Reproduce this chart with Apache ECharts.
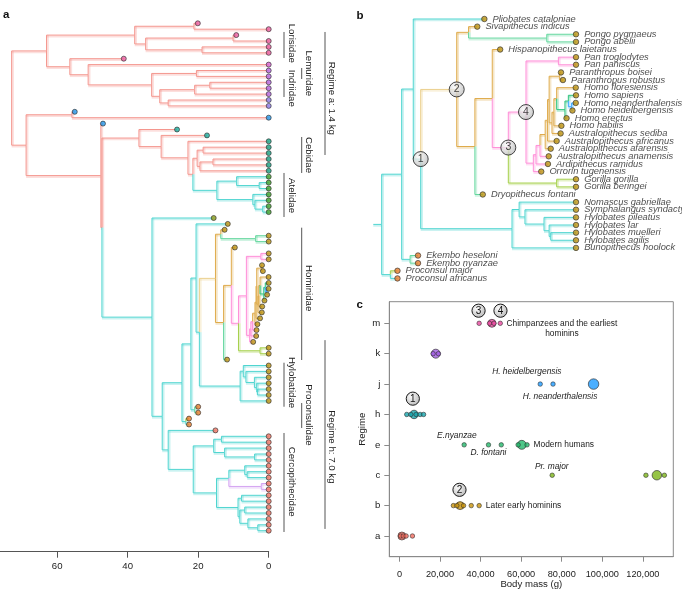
<!DOCTYPE html>
<html><head><meta charset="utf-8">
<script src="https://cdn.jsdelivr.net/npm/echarts@6/dist/echarts.min.js"></script>
<style>html,body{margin:0;padding:0;background:#fff}#c{width:682px;height:591px}</style>
</head><body><div id="c"></div>
<script>
// ================= DATA =================
const N = (age, col, ...kids) => ({age, col, kids});
const T = (age, col, dot, name) => ({age, col, dot, name: name || ''});
const mark = (lab, n) => { n.mk = lab; return n; };

// panel a / b axis ticks (Myr)
const timeTicks = [0, 20, 40, 60];

// clades (node ages in Myr, branch colour code, tip dot colour code)
const strepsirrhineClade = N(63.0,'S',
  N(38.0,'S',
    N(21.2,'S', T(20.1,'S','pk'), T(0,'S','pk')),
    N(34.9,'S',
      N(10.1,'S', T(9.2,'S','pk'), T(0,'S','pk')),
      N(18.9,'S', T(0,'S','pk'), T(0,'S','pk')))),
  N(56.4,'S',
    T(41.1,'S','pk'),
    N(51.2,'S',
      T(0,'S','mg'),
      N(33.2,'S',
        N(20.5,'S', T(0,'S','pu'), T(0,'S','pu')),
        N(30.9,'S',
          N(21.0,'S', N(16.7,'S', T(0,'S','pu'), T(0,'S','pu')), T(0,'S','pu')),
          N(28.5,'S', T(0,'S','vi'), T(0,'S','vi')))))));

const tarsierClade = N(55.8,'S', T(55.0,'S','bl'), T(0,'S','bl'));

const platyrrhineClade = N(36.8,'S',
  T(26.0,'S','tl'),
  N(30.5,'S',
    T(17.5,'S','tl'),
    N(22.9,'S',
      T(0,'S','tg'),
      N(21.5,'S',
        N(20.3,'S',
          N(18.6,'S', T(0,'S','tg'), T(0,'S','tg')),
          N(19.5,'S', N(15.8,'S', T(0,'S','tg'), T(0,'S','tg')), T(0,'S','tg'))),
        N(14.7,'C',
          N(9.1,'C', T(0,'C','gr'), N(2.7,'C', T(0,'C','gr'), T(0,'C','gr'))),
          N(4.5,'C', T(0,'C','gr'), N(3.9,'C', T(0,'C','gr'), N(1.7,'C', T(0,'C','gr'), T(0,'C','gr')))))))));

const homininClade = N(5.4,'K',
  N(5.06,'K',
    N(4.56,'K',
      N(3.9,'T',
        N(3.6,'T',
          N(3.4,'T',
            N(2.1,'T', T(1.9,'T','gd','Paranthropus boisei'), T(1.65,'T','gd','Paranthropus robustus')),
            N(3.04,'T',
              N(2.8,'T',
                N(2.45,'T',
                  T(0.03,'T','gd','Homo floresiensis'),
                  N(1.4,'E',
                    N(0.97,'E', T(0,'E','gd','Homo sapiens'),
                      N(0.55,'B', T(0.03,'B','gd','Homo neanderthalensis'), T(0.45,'B','gd','Homo heidelbergensis'))),
                    T(1.2,'E','gd','Homo erectus'))),
                T(1.85,'T','gd','Homo habilis')),
              T(1.95,'T','gd','Australopithecus sediba'))),
          T(2.45,'T','gd','Australopithecus africanus')),
        T(3.2,'T','gd','Australopithecus afarensis')),
      T(3.45,'K','gd','Australopithecus anamensis')),
    T(3.55,'K','gd','Ardipithecus ramidus')),
  T(4.4,'K','gd','Orrorin tugenensis'));

const africanApeClade = mark('3', N(8.57,'K',
  mark('4', N(6.33,'K',
    N(2.23,'K', T(0,'K','gd','Pan troglodytes'), T(0,'K','gd','Pan paniscus')),
    homininClade)),
  N(2.45,'Y', T(0,'Y','gd','Gorilla gorilla'), T(0,'Y','gd','Gorilla beringei'))));

const hominidClade = mark('2', N(15.1,'P',
  N(13.6,'T', T(12.5,'T','gd','Sivapithecus indicus'),
    N(3.7,'G', T(0,'G','gd','Pongo pygmaeus'), T(0,'G','gd','Pongo abelii'))),
  N(12.8,'T',
    N(10.6,'T', T(9.6,'T','gd','Hispanopithecus laietanus'), africanApeClade),
    T(11.8,'G','gd','Dryopithecus fontani'))));

const hylobatidClade = N(8.1,'C',
  N(7.2,'C', T(0,'C','gd','Nomascus gabriellae'),
    N(6.46,'C', T(0,'C','gd','Symphalangus syndactylus'),
      N(4.05,'C', T(0,'C','gd','Hylobates pileatus'),
        N(3.4,'C', T(0,'C','gd','Hylobates lar'),
          N(3.2,'C', T(0,'C','gd','Hylobates muelleri'), T(0,'C','gd','Hylobates agilis')))))),
  T(0,'C','gd','Bunopithecus hoolock'));

const hominoidClade = N(24.6,'C',
  N(22.07,'C',
    N(20.6,'C', T(11.6,'C','gd','Pliobates cataloniae'), mark('1', N(19.66,'C', hominidClade, hylobatidClade))),
    N(21.0,'C', T(20.0,'G','or','Ekembo heseloni'), T(20.0,'G','or','Ekembo nyanzae'))),
  N(23.5,'C', T(22.6,'Y','or','Proconsul major'), T(22.6,'C','or','Proconsul africanus')));

const cercopithecoidClade = N(28.5,'C',
  T(15.1,'C','rd'),
  N(21.4,'C',
    N(15.6,'C',
      N(13.4,'C', T(0,'C','rd'), T(0,'C','rd')),
      N(12.5,'C', T(0,'C','rd'), N(4.0,'C', T(0,'C','rd'), T(0,'C','rd')))),
    N(14.8,'C',
      N(11.3,'C',
        N(6.8,'C', T(0,'C','rd'), N(6.1,'C', T(0,'C','rd'), T(0,'C','rd'))),
        N(2.1,'L', T(0,'L','rd'), T(0,'L','rd'))),
      N(8.7,'C',
        N(7.7,'C', T(0,'C','rd'), T(0,'C','rd')),
        N(8.2,'C',
          N(6.8,'C', T(0,'C','rd'), T(0,'C','rd')),
          N(5.9,'C', T(0,'C','rd'), N(3.1,'C', T(0,'C','rd'), T(0,'C','rd'))))))));

const bRootStubAge = 25.66;

// panel c
const cRegimes = ['a','b','c','e','h','j','k','m'];
const cMassTicks = [0,20000,40000,60000,80000,100000,120000];
const cOptimum = [1200, 29900, 126900, 60300, 7200, 95700, 17900, 45600];
const massA = [600, 1900, 3300, 6400];
const massB = [26600, 28300, 31600, 35400, 39300];
const massC = [75300, 121500, 130600];
const massE = [31900, 43900, 50200, 58500, 62900];
const massH = [3600, 5600, 8200, 10200, 11900];
const massJ = [69400, 75700];
const massK = [16600, 19200];
const massM = [39300, 44400, 46600, 49700];
const cNodeMarks = [['3','m',39000],['4','m',49800],['1','h',6600],['2','b',29600]];
const cNotes = [
  ['Chimpanzees and the earliest\nhominins','m',80100,false],
  ['H. heidelbergensis','j',62800,true],
  ['H. neanderthalensis','j',79200,true],
  ['E.nyanzae','e',28300,true],
  ['D. fontani','e',43900,true],
  ['Modern humans','e',66100,false],
  ['Pr. major','c',75100,true],
  ['Later early hominins','b',42600,false]
];
const cladeNames = ['Lorisidae','Lemuridae','Indriidae','Cebidae','Atelidae','Hominidae','Hylobatidae','Proconsulidae','Cercopithecidae','Regime a: 1.4 kg','Regime h: 7.0 kg'];
const cladeRows = [[1.47,5.88,3.39],[7.58,9.44,8.47],[9.44,12.49,11.02],[19.27,25.37,22.32],[25.37,32.83,29.2],[34.64,57.07,44.9],[57.53,64.99,60.9],[64.36,68.59,66.4],[69.44,86.22,77.7],[1.47,22.32,12.71],[53.7,85.7,71.8]];
const cladeCol = [0,1,0,1,0,1,0,1,0,2,2];

// ================= STYLE =================
const FONT = '"Liberation Sans", Arial, Helvetica, sans-serif';
const branchCol = {S:'#f4968e', C:'#4fd5d0', T:'#dfab4b', P:'#ebcf8c', K:'#ff8ed8', G:'#64d79e', Y:'#a5d04a', B:'#33a5ff', L:'#d4a3f2', E:'#2ec47e'};
const dotCol = {pk:'#ea5a9e', mg:'#d45fcf', pu:'#b363e0', vi:'#8b7be9', bl:'#2196ea', tl:'#19ab9c', tg:'#15a384', gr:'#3c9f26', ol:'#8d9b19', gd:'#bc910f', or:'#e67c2b', rd:'#f2705f'};
const regimeCol = ['#f06a5c','#c8920a','#7cb518','#22b86a','#17a3aa','#1e9bff','#a05ce0','#e8499f'];
const optSize = [8,8,9.5,9,8.5,10.5,9,8];

// ================= BUILD =================
const clone = o => JSON.parse(JSON.stringify(o));
const aTree = N(72.9,'S', clone(strepsirrhineClade),
  N(68.8,'S', clone(tarsierClade),
    N(47.6,'S', T(47.0,'S','bl'),
      N(47.3,'S', clone(platyrrhineClade),
        N(33.1,'C', T(15.6,'C','ol'),
          N(30.2,'C', clone(hominoidClade), clone(cercopithecoidClade)))))));
const bTree = clone(hominoidClade);

function layout(tree){
  let row = 0; const tips = [], segs = [], marks = [];
  (function rec(n){
    if (!n.kids || !n.kids.length){ n.y = row++; tips.push(n); return; }
    n.kids.forEach(rec);
    n.y = (n.kids[0].y + n.kids[n.kids.length-1].y)/2;
    if (n.mk) marks.push(n);
  })(tree);
  (function rec2(n){
    if (!n.kids || !n.kids.length) return;
    n.kids.forEach(k => {
      segs.push({x1:n.age,y1:n.y,x2:n.age,y2:k.y,col:k.col});
      segs.push({x1:n.age,y1:k.y,x2:k.age,y2:k.y,col:k.col});
      rec2(k);
    });
  })(tree);
  return {tips, segs, marks};
}
const LA = layout(aTree), LB = layout(bTree);
LB.segs.unshift({x1:bRootStubAge,y1:bTree.y,x2:bTree.age,y2:bTree.y,col:'C'});

function segSeries(segs, idx){
  return {
    type:'custom', xAxisIndex:idx, yAxisIndex:idx, silent:true, animation:false, clip:false, z:2,
    data: segs.map(s => [s.x1, s.y1, s.x2, s.y2]),
    renderItem: (params, api) => {
      const s = segs[params.dataIndex];
      const p1 = api.coord([s.x1, s.y1]), p2 = api.coord([s.x2, s.y2]);
      const col = branchCol[s.col];
      const horiz = Math.abs(p1[1]-p2[1]) < 0.01;
      const dx = horiz ? 0 : 1.3, dy = horiz ? 1.3 : 0;
      return {type:'group', children:[
        {type:'line', shape:{x1:p1[0]+dx,y1:p1[1]+dy,x2:p2[0]+dx,y2:p2[1]+dy}, style:{stroke:col,lineWidth:2,opacity:0.3}},
        {type:'line', shape:{x1:p1[0],y1:p1[1],x2:p2[0],y2:p2[1]}, style:{stroke:col,lineWidth:1}}
      ]};
    }
  };
}

const bubbleFill = () => new echarts.graphic.RadialGradient(0.38,0.35,0.75,[{offset:0,color:'#fbfbfb'},{offset:1,color:'#b5b5b5'}]);

const massLists = [massA, massB, massC, massE, massH, massJ, massK, massM];
const cTipData = [];
massLists.forEach((arr, i) => arr.forEach(m => cTipData.push({value:[m, i], itemStyle:{color:regimeCol[i]}})));

const chart = echarts.init(document.getElementById('c'), null, {width:682, height:591});
const A_TOP = 23.3, A_ROW = 5.9, A_BOTTOM = 551.7;
const B_TOP = 19, B_ROW = 7.63;

chart.setOption({
  animation:false,
  backgroundColor:'#fff',
  textStyle:{fontFamily:FONT},
  grid:[
    {left:0, top:A_TOP, width:268.7, height:A_BOTTOM-A_TOP, outerBoundsMode:'none', containLabel:false},
    {left:340, top:B_TOP, width:236, height:34*B_ROW, outerBoundsMode:'none', containLabel:false},
    {left:389.3, top:301.7, width:284, height:255, outerBoundsMode:'none', containLabel:false, show:true, borderColor:'#8a8a8a', borderWidth:1}
  ],
  xAxis:[
    {gridIndex:0, type:'value', inverse:true, min:0, max:76.2, position:'bottom',
      axisLine:{show:true, onZero:false, lineStyle:{color:'#555', width:1}},
      axisTick:{show:true, customValues:timeTicks, length:6, lineStyle:{color:'#555'}},
      axisLabel:{show:true, customValues:timeTicks, color:'#222', fontSize:9.6, margin:10, fontFamily:FONT},
      splitLine:{show:false}},
    {gridIndex:1, type:'value', inverse:true, min:0, max:236/7.9, show:false},
    {gridIndex:2, type:'value', min:-5000, max:135000, position:'bottom',
      axisLine:{show:true, onZero:false, lineStyle:{color:'#8a8a8a'}},
      axisTick:{show:true, customValues:cMassTicks, length:5, lineStyle:{color:'#8a8a8a'}},
      axisLabel:{show:true, customValues:cMassTicks, color:'#222', fontSize:9.2, margin:13, fontFamily:FONT,
        formatter: v => Number(v).toLocaleString('en-US')},
      splitLine:{show:false},
      name:'Body mass (g)', nameLocation:'middle', nameGap:23, nameTextStyle:{color:'#222', fontSize:9.6, fontFamily:FONT}}
  ],
  yAxis:[
    {gridIndex:0, type:'value', inverse:true, min:0, max:(A_BOTTOM-A_TOP)/A_ROW, show:false},
    {gridIndex:1, type:'value', inverse:true, min:0, max:34, show:false},
    {gridIndex:2, type:'value', min:-0.681, max:7.711, position:'left',
      axisLine:{show:true, onZero:false, lineStyle:{color:'#8a8a8a'}},
      axisTick:{show:true, customValues:[0,1,2,3,4,5,6,7], length:5, lineStyle:{color:'#8a8a8a'}},
      axisLabel:{show:true, customValues:[0,1,2,3,4,5,6,7], color:'#222', fontSize:9.6, margin:9, fontFamily:FONT,
        formatter: v => cRegimes[Math.round(v)]},
      splitLine:{show:false},
      name:'Regime', nameLocation:'middle', nameGap:22, nameRotate:90, nameTextStyle:{color:'#222', fontSize:9.6, fontFamily:FONT}}
  ],
  series:[
    segSeries(LA.segs, 0),
    {type:'scatter', xAxisIndex:0, yAxisIndex:0, symbolSize:5, clip:false, z:5, silent:true,
      itemStyle:{borderColor:'#2a2a2a', borderWidth:0.8},
      data: LA.tips.map(t => ({value:[t.age, t.y], itemStyle:{color:dotCol[t.dot]}}))},
    segSeries(LB.segs, 1),
    {type:'scatter', xAxisIndex:1, yAxisIndex:1, symbolSize:5.5, clip:false, z:5, silent:true,
      itemStyle:{borderColor:'#2a2a2a', borderWidth:0.8},
      label:{show:true, position:'right', distance:5, formatter:'{b}', fontStyle:'italic', fontSize:9.3, color:'#222', fontFamily:FONT},
      data: LB.tips.map(t => ({name:t.name, value:[t.age, t.y], itemStyle:{color:dotCol[t.dot]}}))},
    {type:'scatter', xAxisIndex:1, yAxisIndex:1, symbolSize:15, clip:false, z:8, silent:true,
      itemStyle:{color:bubbleFill(), borderColor:'#1a1a1a', borderWidth:1},
      label:{show:true, position:'inside', formatter:'{b}', fontSize:10.5, color:'#111', fontFamily:FONT},
      data: LB.marks.map(n => ({name:n.mk, value:[n.age, n.y]}))},
    {type:'scatter', xAxisIndex:2, yAxisIndex:2, clip:false, z:5, silent:true,
      itemStyle:{borderColor:'#2a2a2a', borderWidth:0.8},
      data: cOptimum.map((m, i) => ({value:[m, i], symbolSize:optSize[i], itemStyle:{color:regimeCol[i]}}))},
    {type:'scatter', xAxisIndex:2, yAxisIndex:2, symbolSize:4.5, clip:false, z:6, silent:true,
      itemStyle:{borderColor:'#2a2a2a', borderWidth:0.7},
      data: cTipData}
  ]
});

// ---------- annotations ----------
const g = [];
const letter = (t, x, y) => ({type:'text', x, y, style:{text:t, font:'bold 11.5px '+FONT, fill:'#111', verticalAlign:'alphabetic'}});
g.push(letter('a', 3, 9), letter('b', 356.5, 10), letter('c', 356.5, 298.5));

const colBarX = [284, 301.7, 325], colTextX = [291.7, 308.2, 331.7];
cladeNames.forEach((nm, i) => {
  const r = cladeRows[i], c = cladeCol[i];
  const y0 = chart.convertToPixel({gridIndex:0}, [0, r[0]])[1];
  const y1 = chart.convertToPixel({gridIndex:0}, [0, r[1]])[1];
  const yt = chart.convertToPixel({gridIndex:0}, [0, r[2]])[1];
  g.push({type:'line', shape:{x1:colBarX[c], y1:y0, x2:colBarX[c], y2:y1}, style:{stroke:'#555', lineWidth:1}});
  g.push({type:'text', x:colTextX[c], y:yt, rotation:-Math.PI/2,
    style:{text:nm, font:'9.7px '+FONT, fill:'#222', align:'center', verticalAlign:'middle'}});
});

cNotes.forEach(([txt, reg, mass, ital]) => {
  const p = chart.convertToPixel({gridIndex:2}, [mass, cRegimes.indexOf(reg)]);
  let dy = 0, align = 'center', vAlign = 'middle';
  if (txt.startsWith('Chimp')) { vAlign = 'top'; dy = -5; }
  if (txt.startsWith('H. heid')) dy = -12.6;
  if (txt.startsWith('H. nean')) dy = 13;
  if (txt.startsWith('E.ny')) dy = -9.3;
  if (txt.startsWith('D. fon')) dy = 8.3;
  if (txt.startsWith('Pr.')) dy = -9;
  if (txt.startsWith('Modern') || txt.startsWith('Later')) align = 'left';
  g.push({type:'text', x:p[0], y:p[1]+dy,
    style:{text:txt, font:(ital?'italic ':'')+'8.4px '+FONT, fill:'#222', align, verticalAlign:vAlign, lineHeight:10}});
});

cNodeMarks.forEach(([lab, reg, mass]) => {
  const p = chart.convertToPixel({gridIndex:2}, [mass, cRegimes.indexOf(reg)]);
  const lift = reg === 'm' ? 12.6 : 15.8;
  g.push({type:'group', x:p[0], y:p[1]-lift, z:20, children:[
    {type:'circle', shape:{cx:0, cy:0, r:6.6}, style:{fill:bubbleFill(), stroke:'#1a1a1a', lineWidth:1}},
    {type:'text', x:0, y:0.5, style:{text:lab, font:'10px '+FONT, fill:'#111', align:'center', verticalAlign:'middle'}}
  ]});
});

chart.setOption({graphic:{elements:g}});
</script>
</body></html>
